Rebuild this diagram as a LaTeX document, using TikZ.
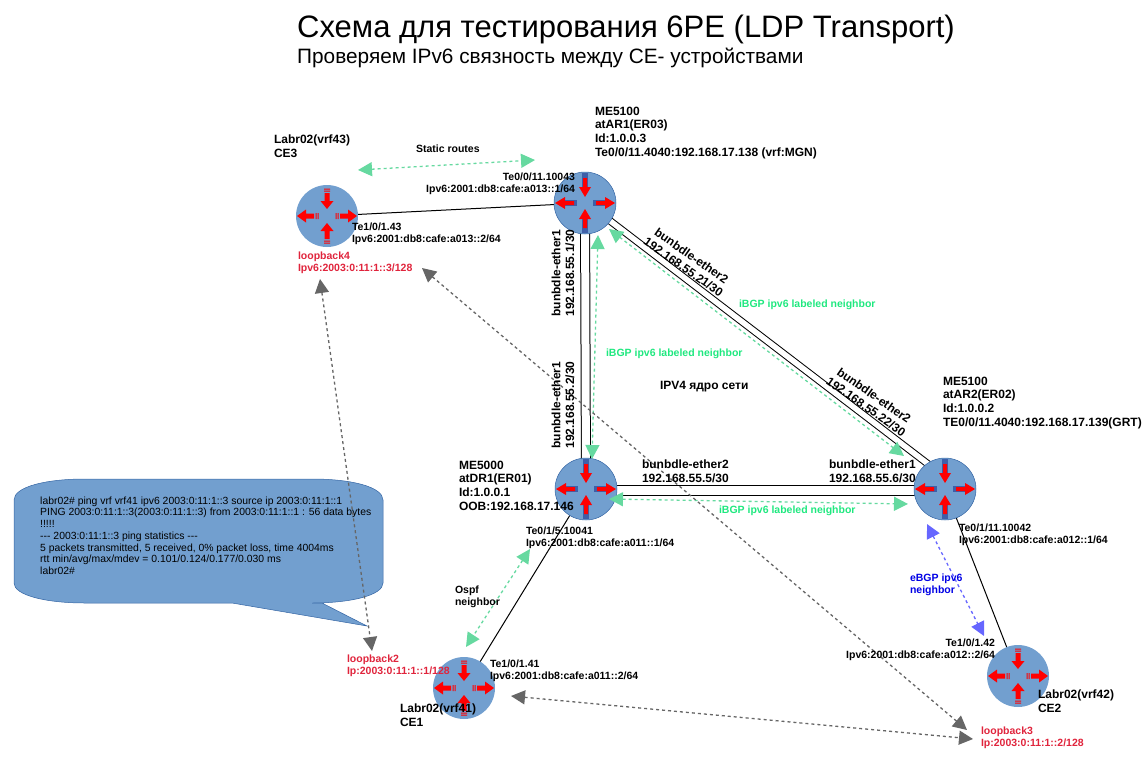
\documentclass[tikz,border=0pt]{standalone}
\usepackage{fontspec}
\setmainfont{Liberation Sans}
\usetikzlibrary{arrows.meta}
\definecolor{rblue}{HTML}{729FCF}
\definecolor{redge}{HTML}{3465A4}
\definecolor{stemblue}{HTML}{3F5FA8}
\definecolor{agreen}{HTML}{66D9A0}
\definecolor{tgreen}{HTML}{1FE87F}
\definecolor{tred}{HTML}{E0243C}
\definecolor{ablue}{HTML}{6666FF}
\definecolor{agrey}{HTML}{666666}
\tikzset{
  x=1pt,y=-1pt,
  lab/.style={anchor=north west,inner sep=0pt,outer sep=0pt,align=left,yshift=4.3pt,
    font=\bfseries\fontsize{12}{13.7}\selectfont,execute at begin node={\rule{0pt}{9pt}}},
  small/.style={lab,font=\bfseries\fontsize{10.5}{12}\selectfont},
  smallr/.style={small,anchor=north east,align=right},
  rot/.style={inner sep=0pt,outer sep=0pt,align=center,font=\bfseries\fontsize{12}{13.7}\selectfont},
  core/.style={circle,minimum size=62pt,inner sep=0pt,fill=rblue,draw=redge,line width=.5pt},
  edge/.style={circle,minimum size=62pt,inner sep=0pt,fill=rblue},
  link/.style={black,line width=1pt},
  dlink/.style={black,line width=1pt,double=white,double distance=8pt},
  tri/.style={{Triangle[width=14pt,length=14pt]}-{Triangle[width=14pt,length=14pt]}},
  gr/.style={agreen,line width=1.3pt,dash pattern=on 3pt off 3pt,tri},
  bl/.style={ablue,line width=1.3pt,dash pattern=on 3pt off 3pt,tri},
  gy/.style={agrey,line width=1.3pt,dash pattern=on 3pt off 3pt,tri},
}
\newcommand{\glyphcore}[1]{%
  \begin{scope}[shift={(#1)}]
  \foreach \a in {0,180}{\begin{scope}[rotate=\a]
    \fill[stemblue] (8,-3) rectangle (25,3);
    \fill[red] (11,-2)--(20,-2)--(20,-6)--(30,0)--(20,6)--(20,2)--(11,2)--cycle;
  \end{scope}}
  \foreach \a in {90,270}{\begin{scope}[rotate=\a]
    \fill[stemblue] (12,-3) rectangle (30,3);
    \fill[red] (25,-2)--(16,-2)--(16,-6)--(6,0)--(16,6)--(16,2)--(25,2)--cycle;
  \end{scope}}
  \end{scope}}
\newcommand{\glyphedge}[1]{%
  \begin{scope}[shift={(#1)}]
  \foreach \a in {0,180}{\begin{scope}[rotate=\a]
    \fill[red] (13,-2.5)--(21,-2.5)--(21,-6.5)--(30,0)--(21,6.5)--(21,2.5)--(13,2.5)--cycle;
    \fill[red] (8.5,-3) rectangle (9.5,3) (10.5,-3) rectangle (11.5,3);
  \end{scope}}
  \foreach \a in {90,270}{\begin{scope}[rotate=\a]
    \fill[red] (23,-2.5)--(15,-2.5)--(15,-6.5)--(7,0)--(15,6.5)--(15,2.5)--(23,2.5)--cycle;
    \fill[red] (24.5,-3) rectangle (25.5,3) (26.5,-3) rectangle (27.5,3);
  \end{scope}}
  \end{scope}}
\begin{document}
\begin{tikzpicture}
\useasboundingbox (0,0) rectangle (1146,763);
% free ends of the neighbour arrows
\coordinate (sa) at (358,170); \coordinate (sb) at (535,160);
\coordinate (va) at (598,235); \coordinate (vb) at (592,459);
\coordinate (da) at (609,229); \coordinate (db) at (904,456);
\coordinate (ha) at (609,499); \coordinate (hb) at (908,504);
\coordinate (ea) at (927,524); \coordinate (eb) at (984,636);
\coordinate (oa) at (530,549); \coordinate (ob) at (466,647);
\coordinate (la) at (320,279); \coordinate (lb) at (372,651);
\coordinate (ma) at (422,268); \coordinate (mb) at (967,730);
\coordinate (na) at (511,696); \coordinate (nb) at (973,739);
% routers positions
\coordinate (pa1) at (585,203); \coordinate (pa2) at (945,489); \coordinate (pd1) at (586,489);
\coordinate (pc3) at (327,216); \coordinate (pc1) at (464,688); \coordinate (pc2) at (1018,676);
% links (under routers)
\draw[dlink] (pa1) -- (pd1);
\draw[dlink,double distance=5.5pt] ([shift={(22,15.5)}]pa1) -- ([shift={(-17,-25)}]pa2);
\draw[dlink,double distance=9pt] ([yshift=-1pt]pd1) -- ([yshift=-1pt]pa2);
\draw[link] (pc3) -- (pa1);
\draw[link] (pd1) -- (pc1);
\draw[link] (pa2) -- (pc2);
% routers
\node[core] (ar1) at (pa1) {}; \glyphcore{ar1}
\node[core] (ar2) at (pa2) {}; \glyphcore{ar2}
\node[core] (dr1) at (pd1) {}; \glyphcore{dr1}
\node[edge] (ce3) at (pc3) {}; \glyphedge{ce3}
\node[edge] (ce1) at (pc1) {}; \glyphedge{ce1}
\node[edge] (ce2) at (pc2) {}; \glyphedge{ce2}
% callout
\path[fill=rblue,draw=redge,line width=.5pt] (14,500) .. controls (14,487) and (45,479) .. (85,479)
  -- (312,479) .. controls (352,479) and (383,487) .. (383,500) -- (383,583)
  .. controls (383,595) and (352,603) .. (312,603) -- (322,603) -- (367,626) -- (232,603) -- (85,603)
  .. controls (45,603) and (14,595) .. (14,583) -- cycle;
\node[anchor=north west,inner sep=0pt,align=left,font=\fontsize{10.4}{11.7}\selectfont] (ping) at (40,496.5)
 {labr02\# ping vrf vrf41 ipv6 2003:0:11:1::3 source ip 2003:0:11:1::1\\
  PING 2003:0:11:1::3(2003:0:11:1::3) from 2003:0:11:1::1 : 56 data bytes\\
  !!!!!\\
  -{}-{}- 2003:0:11:1::3 ping statistics -{}-{}-\\
  5 packets transmitted, 5 received, 0\% packet loss, time 4004ms\\
  rtt min/avg/max/mdev = 0.101/0.124/0.177/0.030 ms\\
  labr02\#};
% neighbour arrows
\draw[gr] (sa) -- (sb);
\draw[gr] (va) -- (vb);
\draw[gr] (da) -- (db);
\draw[gr] (ha) -- (hb);
\draw[gr] (oa) -- (ob);
\draw[bl] (ea) -- (eb);
\draw[gy] (la) -- (lb);
\draw[gy] (ma) -- (mb);
\draw[gy] (na) -- (nb);
% titles
\node[anchor=west,inner sep=0pt,font=\fontsize{31}{34}\selectfont] (title) at (297,29) {Схема для тестирования 6PE (LDP Transport)};
\node[anchor=west,inner sep=0pt,font=\fontsize{20.8}{24}\selectfont] (subtitle) at (297,58) {Проверяем IPv6 связность между CE- устройствами};
% device labels
\node[lab] (l1) at (595,111) {ME5100\\atAR1(ER03)\\Id:1.0.0.3\\Te0/0/11.4040:192.168.17.138 (vrf:MGN)};
\node[lab] (l2) at (943,381) {ME5100\\atAR2(ER02)\\Id:1.0.0.2\\TE0/0/11.4040:192.168.17.139(GRT)};
\node[lab] (l3) at (459,465) {ME5000\\atDR1(ER01)\\Id:1.0.0.1\\OOB:192.168.17.146};
\node[lab] (l4) at (274,139) {Labr02(vrf43)\\CE3};
\node[lab] (l5) at (400,708) {Labr02(vrf41)\\CE1};
\node[lab] (l6) at (1038,694) {Labr02(vrf42)\\CE2};
\node[lab] (l7) at (642,464) {bunbdle-ether2\\192.168.55.5/30};
\node[lab] (l8) at (829,464) {bunbdle-ether1\\192.168.55.6/30};
\node[lab] (l9) at (660,385) {IPV4 ядро сети};
% rotated link labels
\node[rot,rotate=90] (r1) at (563,273) {bunbdle-ether1\\192.168.55.1/30};
\node[rot,rotate=90] (r2) at (563,405) {bunbdle-ether1\\192.168.55.2/30};
\node[rot,rotate=-35] (r3) at (687.5,261.5) {bunbdle-ether2\\192.168.55.21/30};
\node[rot,rotate=-35] (r4) at (870,401) {bunbdle-ether2\\192.168.55.22/30};
% interface labels
\node[smallr] (i1) at (575,177) {Te0/0/11.10043\\Ipv6:2001:db8:cafe:a013::1/64};
\node[small] (i2) at (352,227) {Te1/0/1.43\\Ipv6:2001:db8:cafe:a013::2/64};
\node[small] (i3) at (526,531) {Te0/1/5.10041\\Ipv6:2001:db8:cafe:a011::1/64};
\node[small] (i4) at (490,664) {Te1/0/1.41\\Ipv6:2001:db8:cafe:a011::2/64};
\node[small] (i5) at (959,528) {Te0/1/11.10042\\Ipv6:2001:db8:cafe:a012::1/64};
\node[smallr] (i6) at (995,643) {Te1/0/1.42\\Ipv6:2001:db8:cafe:a012::2/64};
\node[small] (t1) at (416,148) {Static routes};
\node[small] (t2) at (455,590) {Ospf\\neighbor};
% coloured labels
\node[small,text=tred] (c1) at (298,256) {loopback4\\Ipv6:2003:0:11:1::3/128};
\node[small,text=tred] (c2) at (347,659) {loopback2\\Ip:2003:0:11:1::1/128};
\node[small,text=tred] (c3) at (981,731) {loopback3\\Ip:2003:0:11:1::2/128};
\node[small,text=tgreen] (g1) at (739,303) {iBGP ipv6 labeled neighbor};
\node[small,text=tgreen] (g2) at (606,352) {iBGP ipv6 labeled neighbor};
\node[small,text=tgreen] (g3) at (719,509) {iBGP ipv6 labeled neighbor};
\node[small,text=blue!90!black] (b1) at (910,578) {eBGP ipv6\\neighbor};
\end{tikzpicture}
\end{document}
